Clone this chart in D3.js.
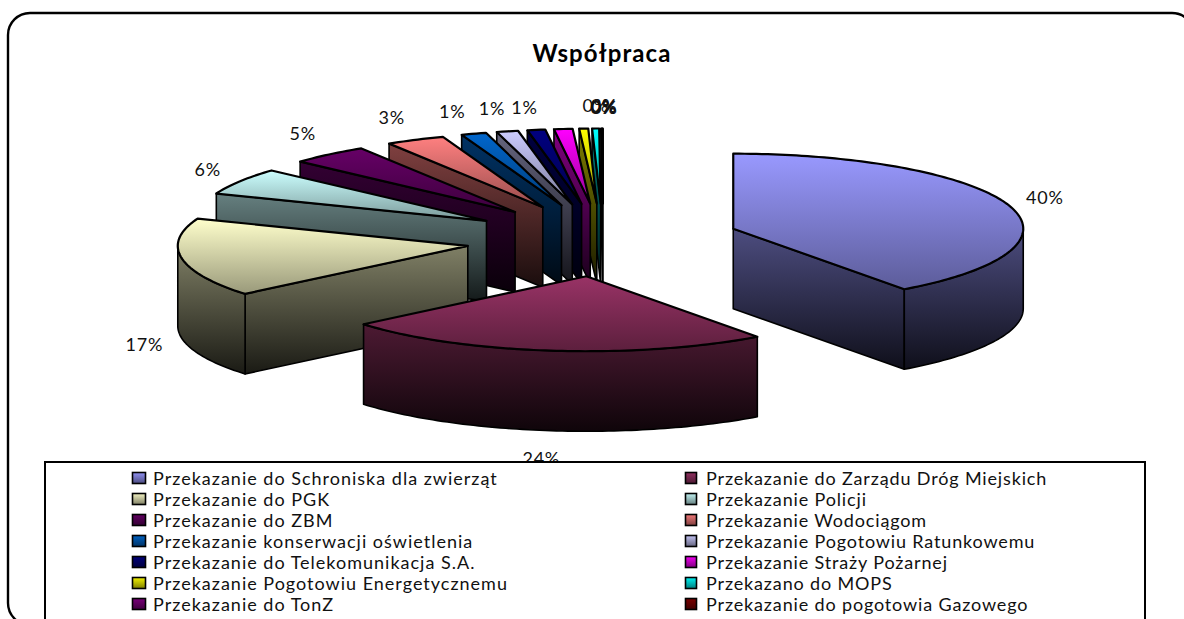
<!DOCTYPE html>
<html><head><meta charset="utf-8">
<script src="https://cdn.jsdelivr.net/npm/d3@7/dist/d3.min.js"></script>
<style>html,body{margin:0;padding:0;background:#fff;overflow:hidden}text{font-family:Lato,"Liberation Sans",sans-serif;fill:#111}</style>
</head><body><svg id="c" width="1184" height="619"></svg>
<script>
const title = "Współpraca";
const categories = ["Przekazanie do Schroniska dla zwierząt","Przekazanie do Zarządu Dróg Miejskich","Przekazanie do PGK","Przekazanie Policji","Przekazanie do ZBM","Przekazanie Wodociągom","Przekazanie konserwacji oświetlenia","Przekazanie Pogotowiu Ratunkowemu","Przekazanie do Telekomunikacja S.A.","Przekazanie Straży Pożarnej","Przekazanie Pogotowiu Energetycznemu","Przekazano do MOPS","Przekazanie do TonZ","Przekazanie do pogotowia Gazowego"];
const values = [40.0,24.0,17.0,5.8,4.4,3.3,1.4,1.2,1.0,1.03,0.5,0.39,0.05,0.03];
const percentLabels = ["40%","24%","17%","6%","5%","3%","1%","1%","1%","0%","0%","0%","0%","0%"];
const colors = ["#9999FF","#993366","#FFFFCC","#CCFFFF","#660066","#FF8080","#0066CC","#CCCCFF","#000080","#FF00FF","#FFFF00","#00FFFF","#800080","#800000"];

const svg = d3.select("#c");
const defs = svg.append("defs");
const rx = 290, ry = 75, depth = 80, explodeX = 137, explodeY = 36.5;
const sx = d3.scaleLinear().domain([-1,1]).range([603-rx,603+rx]);
const sy = d3.scaleLinear().domain([-1,1]).range([240-ry,240+ry]);
const line = d3.line();
const pieGen = d3.pie().sort(null).value(d=>d)(values);
const shade = (c,k)=>{const r=d3.rgb(c);return d3.rgb(r.r*k,r.g*k,r.b*k).formatHex();};

// frame
svg.append("rect").attr("x",8).attr("y",13).attr("width",1186).attr("height",612).attr("rx",22).attr("ry",22)
   .attr("fill","#fff").attr("stroke","#000").attr("stroke-width",2.4);

svg.append("text").attr("x",602).attr("y",62).attr("text-anchor","middle")
   .style("font-weight",700).style("font-size","24px").style("letter-spacing","1.1px").style("fill","#000").text(title);

const slices = pieGen.map((p,i)=>{
  const mid=(p.startAngle+p.endAngle)/2;
  const ax=sx(0)+explodeX*Math.sin(mid), ay=sy(0)-explodeY*Math.cos(mid);
  return {i,start:p.startAngle,end:p.endAngle,mid,ax,ay,color:colors[i]};
});
slices.forEach(s=>{
  [["t",[[0,1],[1,.6]]],["w",[[0,.5],[1,.1]]]].forEach(([k,st])=>{
    const g=defs.append("linearGradient").attr("id",k+s.i).attr("x1",0).attr("y1",0).attr("x2",0).attr("y2",1);
    st.forEach(([o,f])=>g.append("stop").attr("offset",o).attr("stop-color",shade(s.color,f)));
  });
});
const pt=(s,a,dz=0)=>[s.ax+rx*Math.sin(a), s.ay-ry*Math.cos(a)+dz];
const arcPts=(s,a0,a1,dz=0)=>{const n=Math.max(2,Math.ceil((a1-a0)/0.02));return d3.range(n+1).map(j=>pt(s,a0+(a1-a0)*j/n,dz));};

const order=[13,12,11,10,9,8,7,6,5,4,3,2,0,1];
order.forEach(i=>{
  const s=slices[i], g=svg.append("g");
  const wall=(pts)=>g.append("path").attr("d",line(pts)+"Z").attr("fill",`url(#w${i})`).attr("stroke","#000").attr("stroke-width",1.6).attr("stroke-linejoin","round");
  if(s.start>Math.PI) wall([[s.ax,s.ay],pt(s,s.start),pt(s,s.start,depth),[s.ax,s.ay+depth]]);
  if(s.end<Math.PI) wall([[s.ax,s.ay],pt(s,s.end),pt(s,s.end,depth),[s.ax,s.ay+depth]]);
  const a0=Math.max(s.start,Math.PI/2), a1=Math.min(s.end,3*Math.PI/2);
  if(a1>a0){const top=arcPts(s,a0,a1), bot=arcPts(s,a0,a1,depth).reverse(); wall(top.concat(bot));}
  g.append("path").attr("d",line([[s.ax,s.ay]].concat(arcPts(s,s.start,s.end)))+"Z")
   .attr("fill",`url(#t${i})`).attr("stroke","#000").attr("stroke-width",2.2).attr("stroke-linejoin","round");
});

// percent labels
const labelNudge=[[0,0],[-5,6],[0,3],[0,0],[-2,-3],[-7,-2],[-10,0],[-7,0],[-6,0],[36,-1],[22,0],[9,1],[2,2],[2,2]];
slices.forEach(s=>{
  const c=Math.cos(s.mid);
  const x=s.ax+1.13*rx*Math.sin(s.mid)+labelNudge[s.i][0];
  const y=s.ay-1.3*ry*c+(c<0?depth:0)+labelNudge[s.i][1];
  svg.append("text").attr("x",x).attr("y",y+6).attr("text-anchor","middle").style("font-size","18px").style("letter-spacing","0.8px").text(percentLabels[s.i]);
});

// legend
svg.append("rect").attr("x",45).attr("y",462).attr("width",1100).attr("height",180).attr("fill","#fff").attr("stroke","#000").attr("stroke-width",2);
const legCol=d3.scaleOrdinal().domain([0,1]).range([132,685]);
const legRow=d3.scaleLinear().domain([0,6]).range([478,604]);
categories.forEach((c,i)=>{
  const col=i%2,row=(i-col)/2;
  const id=`l${i}`;
  const g=defs.append("linearGradient").attr("id",id).attr("x1",0).attr("y1",0).attr("x2",0).attr("y2",1);
  g.append("stop").attr("offset",0).attr("stop-color",shade(colors[i],.95));
  g.append("stop").attr("offset",1).attr("stop-color",shade(colors[i],.5));
  svg.append("rect").attr("x",legCol(col)+.5).attr("y",legRow(row)-5.5).attr("width",col?11:13).attr("height",11)
     .attr("fill",`url(#${id})`).attr("stroke","#000").attr("stroke-width",1.6);
  svg.append("text").attr("x",legCol(col)+21).attr("y",legRow(row)+6.5).style("font-size","18px").style("letter-spacing",col?"0.85px":"1px").text(c);
});
</script></body></html>
